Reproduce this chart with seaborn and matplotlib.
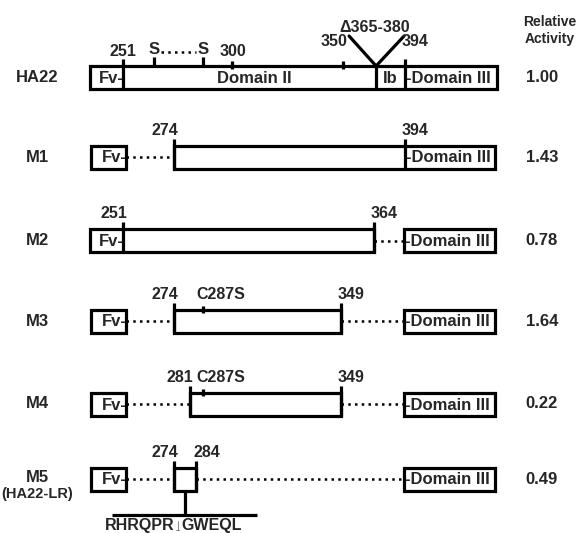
import numpy as np
import seaborn as sns
from matplotlib import pyplot as plt
from matplotlib.patches import Rectangle

sns.set_theme(style='white')
plt.rcParams['font.family'] = ['Liberation Sans', 'DejaVu Sans']

# constructs and relative cytotoxic activity
constructs = ['HA22', 'M1', 'M2', 'M3', 'M4', 'M5']
subtitles = ['', '', '', '', '', '(HA22-LR)']
activity = [1.00, 1.43, 0.78, 1.64, 0.22, 0.49]

# part of domain II / Ib kept in each construct (first, last residue)
frag_start = [251, 274, 251, 274, 281, 274]
frag_end = [394, 394, 364, 349, 349, 284]

# HA22 landmarks
ha22_marks = [251, 300, 350, 394]
disulfide = [265, 287]
deletion = [365, 380]
point_mut = {'M3': 287, 'M4': 287}
mut_name = 'C287S'
linker_seq = ['RHRQPR', 'GWEQL']

# layout (pixels)
X251 = 123
PX_PER_RES = 2.22
FV_LEFT, FV_RIGHT = 90, 126
D3_LEFT, D3_RIGHT = 404, 497
ROW_Y = [77.5, 157, 240.5, 321, 404, 479]
BOX_H = 23
LW = 2.3
FS = 12
FS_NUM = 11.5
del_len = deletion[1] - deletion[0] + 1


def xpos(r):
    # residue -> x, residues after the deleted stretch are shifted back
    r = float(r)
    if r > deletion[1]:
        r -= del_len
    return X251 + PX_PER_RES * (r - 251)


def box(ax, x0, x1, yc):
    ax.add_patch(Rectangle((x0, yc - BOX_H / 2), x1 - x0, BOX_H, facecolor='white',
                           edgecolor='black', linewidth=LW, zorder=2))


def divider(ax, x, yc, above=7):
    ax.plot([x, x], [yc - BOX_H / 2 - above, yc + BOX_H / 2], color='black',
            linewidth=LW, solid_capstyle='butt', zorder=3)


def tick(ax, x, yc, up=5, down=3):
    top = yc - BOX_H / 2
    ax.plot([x, x], [top - up, top + down], color='black', linewidth=LW,
            solid_capstyle='butt', zorder=3)


def dotted(ax, x0, x1, yc):
    ax.plot([x0, x1], [yc, yc], color='black', linewidth=1.8,
            linestyle=(0, (1, 1.7)), dash_capstyle='butt', zorder=1)


def label(ax, txt, x, yc, ha='center', dy=15, size=FS_NUM):
    ax.text(x, yc - BOX_H / 2 - dy, txt, ha=ha, va='center', fontsize=size,
            fontweight='bold', zorder=4)


def inner(ax, txt, x, yc, ha='center'):
    ax.text(x, yc + 1, txt, ha=ha, va='center', fontsize=FS, fontweight='bold',
            zorder=4)


fig = plt.figure(figsize=(5.78, 5.33), dpi=100)
ax = fig.add_axes([0, 0, 1, 1])
ax.set_xlim(0, 578)
ax.set_ylim(533, 0)
ax.axis('off')

ax.text(550, 22, 'Relative', ha='center', va='center', fontsize=10, fontweight='bold')
ax.text(550, 38.5, 'Activity', ha='center', va='center', fontsize=10, fontweight='bold')

for i, name in enumerate(constructs):
    yc = ROW_Y[i]
    ax.text(37, yc - (1 if subtitles[i] else 0), name, ha='center', va='center',
            fontsize=FS, fontweight='bold')
    if subtitles[i]:
        ax.text(37, yc + 15, subtitles[i], ha='center', va='center', fontsize=10.5,
                fontweight='bold')
    ax.text(542, yc, f'{activity[i]:.2f}', ha='center', va='center', fontsize=FS,
            fontweight='bold')

    xs, xe = xpos(frag_start[i]), xpos(frag_end[i])

    if name == 'HA22':
        box(ax, FV_LEFT, D3_RIGHT, yc)
        divider(ax, xs, yc)
        divider(ax, xe, yc)
        xa = xpos(deletion[0])
        divider(ax, xa, yc, above=0)
        for r in ha22_marks[1:3]:
            tick(ax, xpos(r), yc)
        label(ax, str(ha22_marks[0]), xs, yc)
        label(ax, str(ha22_marks[1]), xpos(ha22_marks[1]) + 1, yc)
        label(ax, str(ha22_marks[2]), xpos(ha22_marks[2]) + 5, yc, ha='right', dy=24)
        label(ax, str(ha22_marks[3]), xe - 3, yc, ha='left', dy=25)
        # disulfide bond
        top = yc - BOX_H / 2
        s1, s2 = xpos(disulfide[0]), xpos(disulfide[1])
        for s in (s1, s2):
            ax.plot([s, s], [top - 9, top], color='black', linewidth=LW,
                    solid_capstyle='butt', zorder=3)
            label(ax, 'S', s, yc, dy=16, size=FS)
        ax.plot([s1 + 7, s2 - 7], [top - 14, top - 14], color='black', linewidth=1.8,
                linestyle=(0, (1, 1.7)), dash_capstyle='butt')
        # deleted stretch
        ax.plot([xa - 27, xa, xa + 28], [top - 30, top, top - 30], color='black',
                linewidth=LW, solid_joinstyle='miter')
        ax.text(xa - 1, top - 38, '\u0394' + f'{deletion[0]}-{deletion[1]}', ha='center',
                va='center', fontsize=FS_NUM, fontweight='bold')
        inner(ax, 'Domain II', (xs + xa) / 2 + 5, yc)
        inner(ax, 'Ib', (xa + xe) / 2, yc)
        inner(ax, 'Fv-', xs + 1, yc, ha='right')
        inner(ax, '-Domain III', xe + 1, yc, ha='left')
        continue

    # Fv part
    if frag_start[i] == 251:
        left = FV_LEFT
        fv_edge = xs
    else:
        box(ax, FV_LEFT + 1, FV_RIGHT, yc)
        dotted(ax, FV_RIGHT, xs, yc)
        left = xs
        fv_edge = FV_RIGHT
    inner(ax, 'Fv-', fv_edge + 1, yc, ha='right')

    # domain II fragment + domain III
    if frag_end[i] == 394:
        box(ax, left, D3_RIGHT - 2, yc)
        d3_edge = xe
    else:
        box(ax, left, xe, yc)
        dotted(ax, xe, D3_LEFT, yc)
        box(ax, D3_LEFT, D3_RIGHT - 2, yc)
        d3_edge = D3_LEFT
    inner(ax, '-Domain III', d3_edge + 1, yc, ha='left')

    divider(ax, xs, yc)
    divider(ax, xe, yc)
    label(ax, str(frag_start[i]), xs + 4, yc, ha='right')
    label(ax, str(frag_end[i]), xe - 3, yc, ha='left')

    if name in point_mut:
        xm = xpos(point_mut[name])
        tick(ax, xm, yc, up=4)
        label(ax, mut_name, xm - 7, yc, ha='left')

    if name == 'M5':
        stem = (xs + xe) / 2
        bottom = yc + BOX_H / 2
        ax.plot([stem, stem], [bottom, bottom + 24], color='black', linewidth=LW,
                solid_capstyle='butt')
        ax.plot([112, 257], [bottom + 24, bottom + 24], color='black', linewidth=LW,
                solid_capstyle='butt')
        ax.text(175, bottom + 35, linker_seq[0], ha='right', va='center', fontsize=11.5,
                fontweight='bold')
        ax.text(181, bottom + 35, linker_seq[1], ha='left', va='center', fontsize=11.5,
                fontweight='bold')
        ax.plot([177.5, 177.5], [bottom + 30, bottom + 39], color='0.45', linewidth=0.6)
        ax.plot([176, 179], [bottom + 39, bottom + 39], color='0.45', linewidth=0.6)

fig.savefig('out.png', dpi=100)
plt.close(fig)
